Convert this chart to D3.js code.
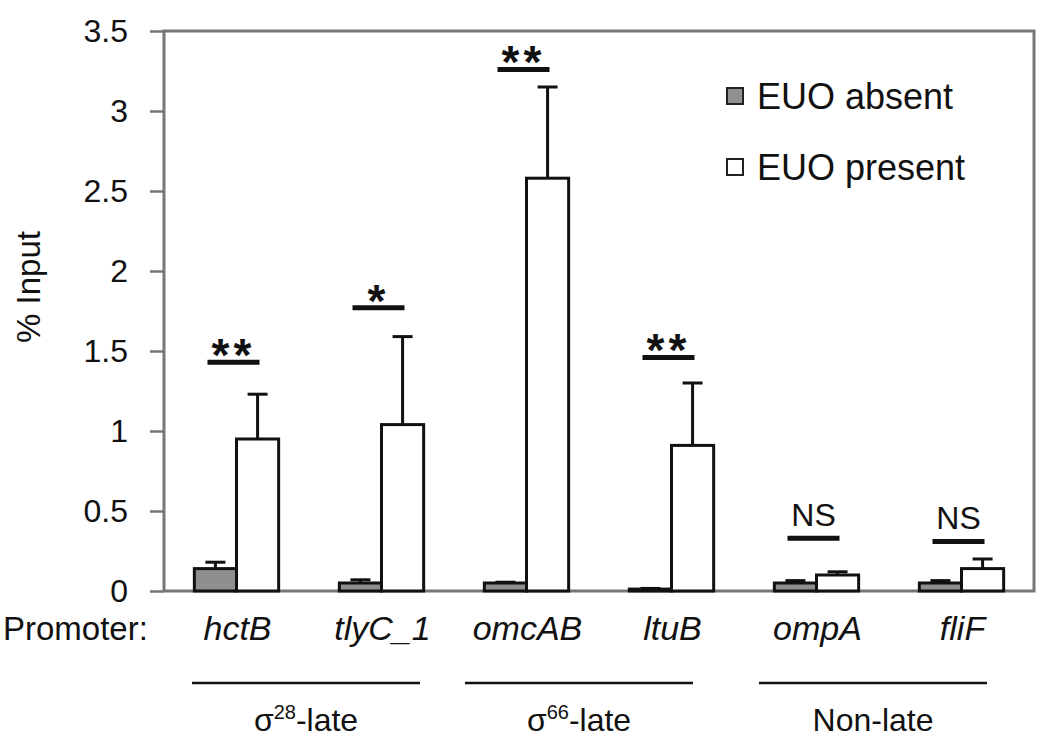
<!DOCTYPE html>
<html><head><meta charset="utf-8">
<script src="https://cdn.jsdelivr.net/npm/d3@7"></script>
<style>
body{margin:0;background:#fff;}
text{font-family:"Liberation Sans",Arial,sans-serif;fill:#111;}
</style></head>
<body><svg id="c" width="1050" height="750"></svg>
<script>
const categories = ["hctB","tlyC_1","omcAB","ltuB","ompA","fliF"];
const series = ["EUO absent","EUO present"];
const absent = [0.14,0.05,0.05,0.012,0.05,0.05];
const absentErr = [0.04,0.02,0.005,0.004,0.015,0.015];
const present = [0.95,1.04,2.58,0.91,0.10,0.14];
const presentErr = [0.28,0.55,0.57,0.39,0.02,0.06];
const sigLabels = ["**","*","**","**","NS","NS"];
const sigLevels = [1.43,1.77,3.26,1.46,0.33,0.31];
const yTicks = [0,0.5,1,1.5,2,2.5,3,3.5];
const yTickLabels = ["0","0.5","1","1.5","2","2.5","3","3.5"];
const groupNames = ["σ28-late","σ66-late","Non-late"];
const groupMembers = [["hctB","tlyC_1"],["omcAB","ltuB"],["ompA","fliF"]];

const svg = d3.select("#c");
const L=164,R=1034,T=31,B=591;
const y = d3.scaleLinear().domain([0,3.5]).range([B,T]);
const x0 = d3.scaleBand().domain(categories).range([L,R]);
const x1 = d3.scaleBand().domain(series).range([0,x0.bandwidth()]).paddingOuter(0.72);
const fills = ["#8f8f8f","#ffffff"];

// y axis ticks + labels
const yAxis = d3.axisLeft(y).tickValues(yTicks).tickFormat((d,i)=>yTickLabels[i]).tickSize(14).tickPadding(22);
const ga = svg.append("g").attr("transform",`translate(${L},0)`).call(yAxis);
ga.select(".domain").remove();
ga.selectAll(".tick line").attr("stroke","#777").attr("stroke-width",2.5);
ga.selectAll(".tick text").attr("font-size",32).attr("fill","#222").attr("font-family","Liberation Sans, Arial");

// frame
svg.append("rect").attr("x",L).attr("y",T).attr("width",R-L).attr("height",B-T)
  .attr("fill","none").attr("stroke","#777").attr("stroke-width",3);

// y title
svg.append("text").attr("transform",`translate(40,287) rotate(-90)`).attr("text-anchor","middle")
  .attr("font-size",33).attr("fill","#222").text("% Input");

// bars
const rows = categories.map((c,i)=>({c,vals:[{s:series[0],v:absent[i],e:absentErr[i]},{s:series[1],v:present[i],e:presentErr[i]}]}));
const g = svg.selectAll("g.grp").data(rows).join("g").attr("class","grp")
  .attr("transform",d=>`translate(${x0(d.c)},0)`);
g.selectAll("g.err").data(d=>d.vals).join("g").attr("class","err").each(function(d){
  const cx = x1(d.s)+x1.bandwidth()/2;
  const s = d3.select(this);
  s.append("line").attr("x1",cx).attr("x2",cx).attr("y1",y(d.v)).attr("y2",y(d.v+d.e)).attr("stroke","#111").attr("stroke-width",3);
  s.append("line").attr("x1",cx-10).attr("x2",cx+10).attr("y1",y(d.v+d.e)).attr("y2",y(d.v+d.e)).attr("stroke","#111").attr("stroke-width",3);
});
g.selectAll("rect").data(d=>d.vals).join("rect")
  .attr("x",d=>x1(d.s)).attr("width",x1.bandwidth())
  .attr("y",d=>y(d.v)).attr("height",d=>y(0)-y(d.v))
  .attr("fill",(d,i)=>fills[i]).attr("stroke","#111").attr("stroke-width",3);

// significance
categories.forEach((c,i)=>{
  const cx = x0(c)+x0.bandwidth()/2 - 3;
  const ly = y(sigLevels[i]);
  svg.append("line").attr("x1",cx-26).attr("x2",cx+26).attr("y1",ly).attr("y2",ly).attr("stroke","#111").attr("stroke-width",5);
  const isNS = sigLabels[i]==="NS";
  svg.append("text").attr("x",cx).attr("y",isNS? ly-12 : ly+9).attr("text-anchor","middle")
    .attr("font-size",isNS?32:46).attr("font-weight",isNS?"normal":"bold")
    .attr("letter-spacing",isNS?0:4)
    .attr("fill",isNS?"#223":"#333")
    .text(sigLabels[i]);
});

// category labels
svg.append("text").attr("x",3).attr("y",640).attr("font-size",33).attr("fill","#222").text("Promoter:");
svg.selectAll("text.cat").data(categories).join("text").attr("class","cat")
  .attr("x",d=>x0(d)+x0.bandwidth()/2+1).attr("y",640).attr("text-anchor","middle")
  .attr("font-size",34).attr("font-style","italic").attr("fill","#222").text(d=>d);

// group lines
const nudges=[-3,-20,-16];
groupMembers.forEach((m,i)=>{
  const a = x0(m[0]), b = x0(m[m.length-1])+x0.bandwidth();
  const cx = (a+b)/2 + nudges[i];
  svg.append("line").attr("x1",cx-114).attr("x2",cx+114).attr("y1",683).attr("y2",683).attr("stroke","#111").attr("stroke-width",2.5);
  const t = svg.append("text").attr("x",cx).attr("y",731).attr("text-anchor","middle").attr("font-size",32).attr("fill","#222");
  const nm = groupNames[i];
  if(nm.startsWith("σ")){
    t.append("tspan").text("σ");
    t.append("tspan").attr("font-size",20).attr("dy",-12).text(nm.slice(1,3));
    t.append("tspan").attr("dy",12).text(nm.slice(3));
  } else t.text(nm);
});

// legend
const leg = svg.append("g").attr("transform","translate(727,88)");
series.forEach((s,i)=>{
  const r = leg.append("g").attr("transform",`translate(0,${i*71})`);
  r.append("rect").attr("width",16).attr("height",16).attr("fill",fills[i]).attr("stroke","#222").attr("stroke-width",2);
  r.append("text").attr("x",30).attr("y",21).attr("font-size",36).attr("fill","#222").text(s);
});
</script></body></html>
